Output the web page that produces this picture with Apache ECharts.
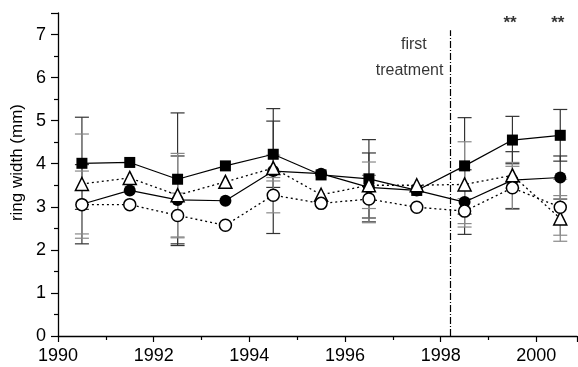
<!DOCTYPE html>
<html>
<head>
<meta charset="utf-8">
<script src="https://cdn.jsdelivr.net/npm/echarts@6/dist/echarts.min.js"></script>
<style>
  html, body { margin: 0; padding: 0; background: #fff; }
</style>
</head>
<body>
<div id="main" style="width: 578px; height: 367px;"></div>
<script>
// years (points sit at mid-year)
var years = [1990.5, 1991.5, 1992.5, 1993.5, 1994.5, 1995.5, 1996.5, 1997.5, 1998.5, 1999.5, 2000.5];

// mean ring width (mm) and error (mm), null = no error bar
var squareMean = [4.01, 4.03, 3.64, 3.95, 4.22, 3.74, 3.65, 3.38, 3.95, 4.55, 4.66];
var squareErr  = [1.07, null, 1.54, null, 0.77, null, 0.91, null, 1.12, 0.55, 0.60];

var dotMean = [3.06, 3.38, 3.16, 3.14, 3.83, 3.77, 3.45, 3.38, 3.11, 3.62, 3.68];
var dotErr  = [0.92, null, 1.02, null, 1.45, null, 0.80, null, 0.75, 0.66, 0.50];

var triMean = [3.53, 3.67, 3.27, 3.58, 3.90, 3.28, 3.50, 3.50, 3.52, 3.73, 2.73];
var triErr  = [1.16, null, 0.97, null, 0.30, null, 0.54, null, 0.99, 0.30, 0.53];

var ringMean = [3.05, 3.05, 2.80, 2.57, 3.27, 3.08, 3.18, 2.99, 2.90, 3.44, 2.99];
var ringErr  = [0.78, null, 0.52, null, 0.41, null, 0.55, null, 0.29, 0.50, 0.65];

var treatmentYear = 1998.2;
var starYears = [1999.45, 2000.45];

var myChart = echarts.init(document.getElementById('main'));

function pairs(mean) {
  return years.map(function (y, i) { return [y, mean[i]]; });
}
function errData(mean, err) {
  var out = [];
  years.forEach(function (y, i) {
    if (err[i] != null) out.push([y, mean[i] - err[i], mean[i] + err[i]]);
  });
  return out;
}
function errSeries(mean, err, color) {
  return {
    type: 'custom',
    silent: true,
    z: 1,
    data: errData(mean, err),
    renderItem: function (params, api) {
      var lo = api.coord([api.value(0), api.value(1)]);
      var hi = api.coord([api.value(0), api.value(2)]);
      var w = 7;
      var st = { stroke: color, lineWidth: 1.2 };
      return {
        type: 'group',
        children: [
          { type: 'line', shape: { x1: lo[0], y1: lo[1], x2: hi[0], y2: hi[1] }, style: st },
          { type: 'line', shape: { x1: lo[0] - w, y1: lo[1], x2: lo[0] + w, y2: lo[1] }, style: st },
          { type: 'line', shape: { x1: hi[0] - w, y1: hi[1], x2: hi[0] + w, y2: hi[1] }, style: st }
        ]
      };
    }
  };
}

var font = '"Liberation Sans", Arial, sans-serif';

var option = {
  animation: false,
  grid: { left: 58, right: 1, top: 13, bottom: 31 },
  xAxis: {
    type: 'value',
    min: 1990,
    max: 2000.85,
    interval: 2,
    axisLine: { lineStyle: { color: '#000', width: 1.3 } },
    axisTick: { length: 6, lineStyle: { color: '#000', width: 1.2 } },
    minorTick: { show: true, splitNumber: 2, length: 4, lineStyle: { color: '#000', width: 1.2 } },
    axisLabel: {
      color: '#000', fontSize: 18, fontFamily: font, margin: 11,
      showMaxLabel: false,
      formatter: function (v) { return String(v); }
    },
    splitLine: { show: false }
  },
  yAxis: {
    type: 'value',
    min: 0,
    max: 7.5,
    interval: 1,
    axisLine: { show: true, lineStyle: { color: '#000', width: 1.3 } },
    axisTick: { show: true, length: 7, lineStyle: { color: '#000', width: 1.2 } },
    minorTick: { show: true, splitNumber: 2, length: 4, lineStyle: { color: '#000', width: 1.2 } },
    axisLabel: {
      color: '#000', fontSize: 18, fontFamily: font, margin: 12,
      showMaxLabel: false
    },
    splitLine: { show: false }
  },
  graphic: [{
    type: 'text',
    left: 9,
    top: 104,
    rotation: Math.PI / 2,
    style: { text: 'ring width (mm)', fill: '#000', font: '17px ' + font }
  }],
  series: [
    errSeries(squareMean, squareErr, '#333'),
    errSeries(dotMean, dotErr, '#333'),
    errSeries(triMean, triErr, '#888'),
    errSeries(ringMean, ringErr, '#888'),
    {
      name: 'square',
      type: 'line',
      z: 3,
      data: pairs(squareMean),
      symbol: 'rect',
      symbolSize: 11,
      lineStyle: { color: '#000', width: 1.2 },
      itemStyle: { color: '#000' },
      markLine: {
        silent: true,
        symbol: 'none',
        label: { show: false },
        lineStyle: { color: '#000', width: 1.2, type: [7, 2, 1, 2] },
        data: [[{ coord: [treatmentYear, 0] }, { coord: [treatmentYear, 7.1] }]]
      }
    },
    {
      name: 'dot',
      type: 'line',
      z: 4,
      data: pairs(dotMean),
      symbol: 'circle',
      symbolSize: 12,
      lineStyle: { color: '#000', width: 1.2 },
      itemStyle: { color: '#000' }
    },
    {
      name: 'triangle',
      type: 'line',
      z: 5,
      data: pairs(triMean),
      symbol: 'triangle',
      symbolSize: 13,
      lineStyle: { color: '#000', width: 1.3, type: [2, 3] },
      itemStyle: { color: '#fff', borderColor: '#000', borderWidth: 1.5 }
    },
    {
      name: 'ring',
      type: 'line',
      z: 6,
      data: pairs(ringMean),
      symbol: 'circle',
      symbolSize: 12,
      lineStyle: { color: '#000', width: 1.3, type: [2, 3] },
      itemStyle: { color: '#fff', borderColor: '#000', borderWidth: 1.5 }
    },
    {
      type: 'scatter',
      silent: true,
      z: 7,
      symbolSize: 1,
      itemStyle: { color: 'rgba(0,0,0,0)' },
      label: {
        show: true, position: 'inside', color: '#000', fontSize: 16, fontFamily: font,
        formatter: function (p) { return p.data[2]; }
      },
      data: [
        [1997.44, 6.77, 'first'],
        [1997.35, 6.17, 'treatment']
      ]
    },
    {
      type: 'scatter',
      silent: true,
      z: 7,
      symbolSize: 1,
      itemStyle: { color: 'rgba(0,0,0,0)' },
      label: {
        show: true, position: 'inside', color: '#000', fontSize: 17, fontWeight: 'bold', fontFamily: font,
        formatter: '**'
      },
      data: starYears.map(function (y) { return [y, 7.25]; })
    }
  ]
};

myChart.setOption(option);
</script>
</body>
</html>
